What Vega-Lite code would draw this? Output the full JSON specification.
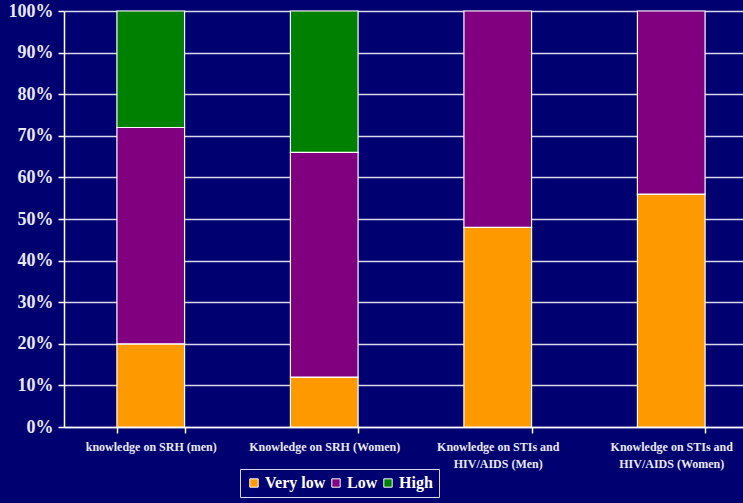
{
  "$schema": "https://vega.github.io/schema/vega-lite/v6.json",
  "autosize": "none",
  "width": 694,
  "height": 416,
  "padding": {"left": 64, "top": 11, "right": 0, "bottom": 76},
  "background": "#000070",
  "config": {
    "view": {"stroke": null},
    "font": "Liberation Serif"
  },
  "data": {
    "values": [
      {"group": "knowledge on SRH (men)", "level": "Very low", "order": 1, "pct": 20},
      {"group": "knowledge on SRH (men)", "level": "Low", "order": 2, "pct": 52},
      {"group": "knowledge on SRH (men)", "level": "High", "order": 3, "pct": 28},
      {"group": "Knowledge on SRH (Women)", "level": "Very low", "order": 1, "pct": 12},
      {"group": "Knowledge on SRH (Women)", "level": "Low", "order": 2, "pct": 54},
      {"group": "Knowledge on SRH (Women)", "level": "High", "order": 3, "pct": 34},
      {"group": "Knowledge on STIs and HIV/AIDS (Men)", "level": "Very low", "order": 1, "pct": 48},
      {"group": "Knowledge on STIs and HIV/AIDS (Men)", "level": "Low", "order": 2, "pct": 52},
      {"group": "Knowledge on STIs and HIV/AIDS (Women)", "level": "Very low", "order": 1, "pct": 56},
      {"group": "Knowledge on STIs and HIV/AIDS (Women)", "level": "Low", "order": 2, "pct": 44}
    ]
  },
  "mark": {"type": "bar", "stroke": "#FFFFFF", "strokeWidth": 1.2},
  "encoding": {
    "x": {
      "field": "group",
      "type": "nominal",
      "sort": null,
      "scale": {"paddingInner": 0.61, "paddingOuter": 0.305},
      "axis": {
        "title": null,
        "labelAngle": 0,
        "labelColor": "#E8E8F4",
        "labelFont": "Liberation Serif",
        "labelFontWeight": "bold",
        "labelFontSize": 12,
        "labelPadding": 8,
        "labelLimit": 200,
        "labelExpr": "datum.label == 'Knowledge on STIs and HIV/AIDS (Men)' ? ['Knowledge on STIs and', 'HIV/AIDS (Men)'] : datum.label == 'Knowledge on STIs and HIV/AIDS (Women)' ? ['Knowledge on STIs and', 'HIV/AIDS (Women)'] : datum.label",
        "labelLineHeight": 17,
        "domainColor": "#FFFFFF",
        "domainWidth": 1.5,
        "tickColor": "#FFFFFF",
        "tickBand": "extent",
        "tickSize": 6,
        "tickWidth": 1.5,
        "grid": false
      }
    },
    "y": {
      "field": "pct",
      "type": "quantitative",
      "stack": "zero",
      "scale": {"domain": [0, 100], "nice": false},
      "axis": {
        "title": null,
        "values": [0, 10, 20, 30, 40, 50, 60, 70, 80, 90, 100],
        "labelExpr": "datum.value + '%'",
        "labelColor": "#E8E8F4",
        "labelFont": "Liberation Serif",
        "labelFontWeight": "bold",
        "labelFontSize": 18,
        "labelPadding": 5,
        "domainColor": "#FFFFFF",
        "domainWidth": 1.5,
        "tickColor": "#FFFFFF",
        "tickSize": 6,
        "tickWidth": 1.5,
        "grid": true,
        "gridColor": "#D8D8E8",
        "gridWidth": 1.5,
        "gridOpacity": 1
      }
    },
    "color": {
      "field": "level",
      "type": "nominal",
      "scale": {"domain": ["Very low", "Low", "High"], "range": ["#FF9900", "#800080", "#008000"]},
      "legend": {
        "title": null,
        "orient": "none",
        "legendX": 176,
        "legendY": 458,
        "direction": "horizontal",
        "symbolType": "square",
        "symbolSize": 70,
        "symbolStrokeColor": "#FFFFFF",
        "symbolStrokeWidth": 1,
        "symbolOpacity": 1,
        "labelColor": "#FFFFFF",
        "labelFont": "Liberation Serif",
        "labelFontWeight": "bold",
        "labelFontSize": 16,
        "labelOffset": 3,
        "columnPadding": 2,
        "padding": 6,
        "strokeColor": "#D8D8E8",
        "fillColor": "#000070"
      }
    },
    "order": {"field": "order", "type": "quantitative"}
  }
}
